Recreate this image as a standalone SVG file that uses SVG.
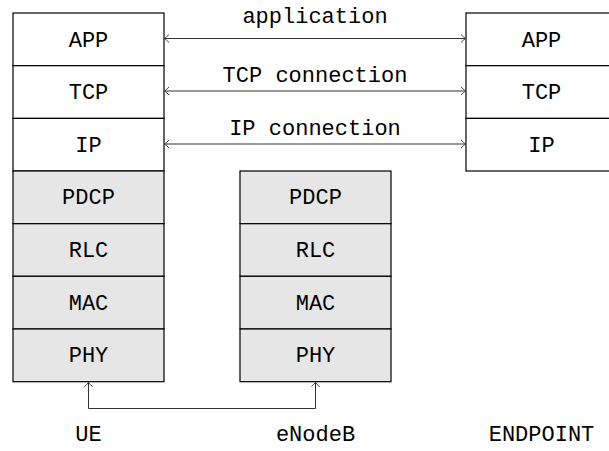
<svg xmlns="http://www.w3.org/2000/svg" width="609" height="451" viewBox="0 0 609 451">
<style>
.w{fill:#ffffff;stroke:#000;stroke-width:1.2}
.g{fill:#e6e6e6;stroke:#000;stroke-width:1.2}
.t{font-family:"Liberation Mono","DejaVu Sans Mono",monospace;font-size:22px;fill:#000;text-anchor:middle}
.c{fill:none;stroke:#333;stroke-width:1}
</style>
<defs>
<marker id="ah" viewBox="-6 -5 7 10" markerWidth="7" markerHeight="10" refX="0" refY="0" orient="auto-start-reverse" markerUnits="userSpaceOnUse">
<path d="M-4.5,-4 Q-1.5,-1 0,0 Q-1.5,1 -4.5,4" fill="none" stroke="#333" stroke-width="0.9"/>
</marker>
</defs>
<rect width="609" height="451" fill="#fff"/>
<g id="UE">
<rect class="w" x="13" y="13" width="151" height="52.7"/>
<text class="t" x="88.5" y="46.5">APP</text>
<rect class="w" x="13" y="65.7" width="151" height="52.7"/>
<text class="t" x="88.5" y="99">TCP</text>
<rect class="w" x="13" y="118.4" width="151" height="52.6"/>
<text class="t" x="88.5" y="151.8">IP</text>
<rect class="g" x="13" y="171" width="151" height="52.7"/>
<text class="t" x="88.5" y="204.4">PDCP</text>
<rect class="g" x="13" y="223.7" width="151" height="52.6"/>
<text class="t" x="88.5" y="257">RLC</text>
<rect class="g" x="13" y="276.3" width="151" height="52.7"/>
<text class="t" x="88.5" y="309.7">MAC</text>
<rect class="g" x="13" y="329" width="151" height="52.7"/>
<text class="t" x="88.5" y="362.4">PHY</text>
<text class="t" x="88.5" y="441">UE</text>
</g>
<g id="eNodeB">
<rect class="g" x="240" y="171" width="151" height="52.7"/>
<text class="t" x="315.5" y="204.4">PDCP</text>
<rect class="g" x="240" y="223.7" width="151" height="52.6"/>
<text class="t" x="315.5" y="257">RLC</text>
<rect class="g" x="240" y="276.3" width="151" height="52.7"/>
<text class="t" x="315.5" y="309.7">MAC</text>
<rect class="g" x="240" y="329" width="151" height="52.7"/>
<text class="t" x="315.5" y="362.4">PHY</text>
<text class="t" x="315.5" y="441">eNodeB</text>
</g>
<g id="ENDPOINT">
<rect class="w" x="466" y="13" width="151" height="52.7"/>
<text class="t" x="541.5" y="46.5">APP</text>
<rect class="w" x="466" y="65.7" width="151" height="52.7"/>
<text class="t" x="541.5" y="99">TCP</text>
<rect class="w" x="466" y="118.4" width="151" height="52.6"/>
<text class="t" x="541.5" y="151.8">IP</text>
<text class="t" x="541.5" y="441">ENDPOINT</text>
</g>
<g id="connectors">
<path class="c" d="M164.5,38.5 H465.5" marker-start="url(#ah)" marker-end="url(#ah)"/>
<text class="t" x="315" y="23">application</text>
<path class="c" d="M164.5,91 H465.5" marker-start="url(#ah)" marker-end="url(#ah)"/>
<text class="t" x="315" y="81.5">TCP connection</text>
<path class="c" d="M164.5,144 H465.5" marker-start="url(#ah)" marker-end="url(#ah)"/>
<text class="t" x="315" y="135">IP connection</text>
<path class="c" d="M88.5,382.3 V408.5 H315.5 V382.3" marker-start="url(#ah)" marker-end="url(#ah)"/>
</g>
</svg>
